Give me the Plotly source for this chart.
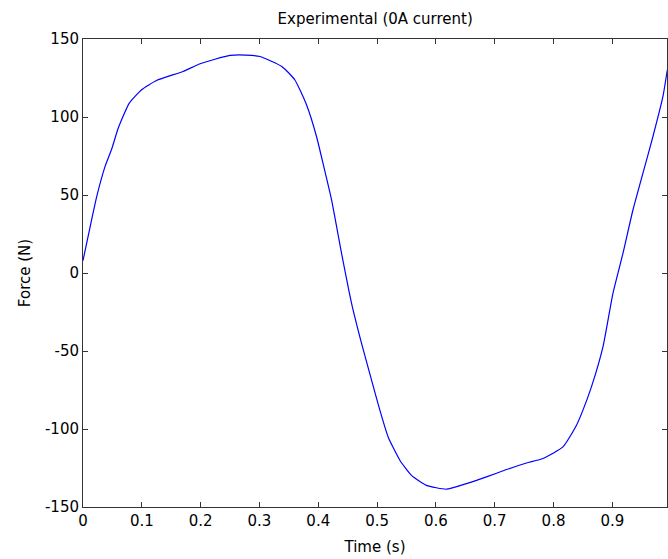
import plotly.graph_objects as go

time_s = [0.0, 0.0158, 0.0233, 0.0374, 0.0488, 0.060, 0.0787, 0.0997, 0.125, 0.170,
          0.199, 0.250, 0.287, 0.301, 0.338, 0.360, 0.380, 0.397, 0.408, 0.4226,
          0.4396, 0.4566, 0.4736, 0.4906, 0.5047, 0.5188, 0.5387, 0.5585, 0.584, 0.618,
          0.652, 0.686, 0.720, 0.754, 0.782, 0.816, 0.839, 0.850, 0.8644, 0.884,
          0.901, 0.918, 0.935, 0.952, 0.969, 0.986, 0.9935]
force_n = [8.0, 36.1, 49.0, 68.2, 79.5, 92.9, 108.9, 117.5, 123.4, 129.2,
           134.1, 139.5, 139.5, 138.8, 132.4, 123.9, 107.8, 87.5, 70.4, 46.9,
           12.6, -19.4, -45.1, -68.7, -87.9, -105.1, -120.0, -129.7, -136.1, -138.6,
           -135.0, -130.7, -126.0, -121.8, -118.9, -111.5, -97.6, -87.9, -73.0, -47.3,
           -13.0, 12.6, 40.4, 64.0, 87.5, 113.2, 130.3]

x_ticks = [0, 0.1, 0.2, 0.3, 0.4, 0.5, 0.6, 0.7, 0.8, 0.9]
x_tick_labels = ["0", "0.1", "0.2", "0.3", "0.4", "0.5", "0.6", "0.7", "0.8", "0.9"]
y_ticks = [-150, -100, -50, 0, 50, 100, 150]
y_tick_labels = ["-150", "-100", "-50", "0", "50", "100", "150"]

FONT = "DejaVu Sans, Verdana, sans-serif"
FS = 15
AX = "#333333"

fig = go.Figure()
fig.add_trace(go.Scatter(x=time_s, y=force_n, mode="lines",
                         line=dict(color="#0000ff", width=1.2, shape="spline", smoothing=0.5),
                         showlegend=False, hoverinfo="x+y"))

fig.update_layout(
    width=668, height=559,
    margin=dict(l=83, r=1, t=39, b=52, autoexpand=False),
    paper_bgcolor="white", plot_bgcolor="white",
    font=dict(family=FONT, size=FS, color="#000000"),
    title=dict(text="Experimental (0A current)", x=0.5617, xanchor="center",
               y=1 - 19 / 559, yanchor="middle", yref="container",
               font=dict(family=FONT, size=FS, color="#000000")),
)
fig.update_xaxes(
    range=[0, 0.9929], tickmode="array", tickvals=x_ticks, ticktext=x_tick_labels,
    showline=True, linecolor=AX, linewidth=1, mirror="ticks",
    ticks="inside", ticklen=5, tickcolor=AX, tickwidth=1,
    showgrid=False, zeroline=False, automargin=False,
    title=dict(text="Time (s)", standoff=12, font=dict(size=FS)),
    tickfont=dict(size=FS),
)
fig.update_yaxes(
    range=[-150, 150], tickmode="array", tickvals=y_ticks, ticktext=y_tick_labels,
    showline=True, linecolor=AX, linewidth=1, mirror="ticks",
    ticks="inside", ticklen=5, tickcolor=AX, tickwidth=1,
    showgrid=False, zeroline=False, automargin=False,
    title=dict(text="Force (N)", standoff=10, font=dict(size=FS)),
    tickfont=dict(size=FS),
)

fig.write_html("out.html", config={"displayModeBar": False},
               post_script="document.body.style.margin='0';document.body.style.overflow='hidden';")
